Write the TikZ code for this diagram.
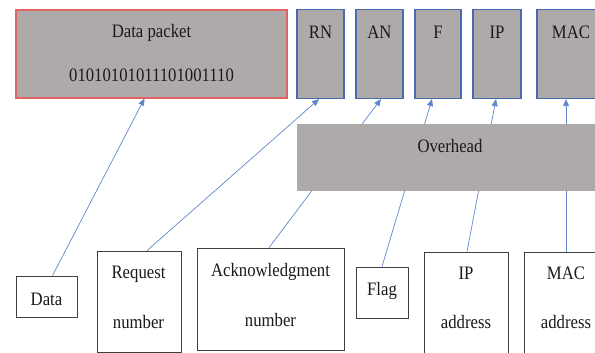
\documentclass[tikz,border=0pt]{standalone}
\usepackage{fontspec}
\setmainfont[FakeStretch=0.88]{Liberation Serif}
\usetikzlibrary{arrows.meta,calc}
\definecolor{boxgray}{HTML}{AEAAAA}
\definecolor{redline}{HTML}{E06464}
\definecolor{blueline}{HTML}{4A6BB0}
\definecolor{arrowblue}{HTML}{4472C4}
\definecolor{txt}{HTML}{1A1A1A}
\begin{document}
\begin{tikzpicture}[x=1pt,y=-1pt,
  txtstyle/.style={inner sep=0pt,text=txt,font=\fontsize{19}{20}\selectfont,anchor=base},
  topbox/.style={draw=blueline,line width=1.1pt,fill=boxgray},
  botbox/.style={draw=black!75,line width=0.8pt,fill=white},
  conn/.style={draw=arrowblue!85,line width=0.7pt,-{Triangle[length=7pt,width=6pt]}}]
\useasboundingbox (0,0) rectangle (595,353);
\clip (0,0) rectangle (595,353);
% boxes (as nodes of fixed size)
\node[draw=redline,line width=1.1pt,fill=boxgray,minimum width=271pt,minimum height=88pt,inner sep=0pt] (packet) at (151.5,54) {};
\node[topbox,minimum width=47pt,minimum height=89pt,inner sep=0pt] (rn) at (320.5,54) {};
\node[topbox,minimum width=47pt,minimum height=89pt,inner sep=0pt] (an) at (379.5,54) {};
\node[topbox,minimum width=46pt,minimum height=89pt,inner sep=0pt] (f) at (438,54) {};
\node[topbox,minimum width=48pt,minimum height=89pt,inner sep=0pt] (ip) at (497,54) {};
\node[topbox,minimum width=68pt,minimum height=89pt,inner sep=0pt] (mac) at (571,54) {};
% bottom boxes
\node[botbox,minimum width=61pt,minimum height=41pt,inner sep=0pt] (data) at (46.5,296.5) {};
\node[botbox,minimum width=84pt,minimum height=101pt,inner sep=0pt] (req) at (139,301.5) {};
\node[botbox,minimum width=147pt,minimum height=102pt,inner sep=0pt] (ack) at (270.5,299) {};
\node[botbox,minimum width=52pt,minimum height=51pt,inner sep=0pt] (flag) at (382,292.5) {};
\node[botbox,minimum width=84pt,minimum height=110pt,inner sep=0pt] (ipa) at (466,307) {};
\node[botbox,minimum width=84pt,minimum height=110pt,inner sep=0pt] (maca) at (566,307) {};
% connectors (drawn before the overhead box, which hides their middle part)
\draw[conn] ([xshift=6pt]data.north) -- ([xshift=-7pt]packet.south);
\draw[conn] ([xshift=8pt]req.north) -- ([xshift=-1.5pt]rn.south);
\draw[conn] ([xshift=-1.5pt]ack.north) -- ([xshift=1.5pt]an.south);
\draw[conn] (flag.north) -- ([xshift=-6pt]f.south);
\draw[conn] ([xshift=1pt]ipa.north) -- ([xshift=-1pt]ip.south);
\draw[conn] (maca.north) -- ([xshift=-5pt]mac.south);
% overhead box
\node[fill=boxgray,minimum width=306pt,minimum height=67pt,inner sep=0pt] (over) at (450,157.5) {};
% texts
\node[txtstyle] (tpacket) at (151.5,38) {Data packet};
\node[txtstyle] (tbits) at (151.5,82) {01010101011101001110};
\node[txtstyle] (trn) at (320.5,39) {RN};
\node[txtstyle] (tan) at (379.5,39) {AN};
\node[txtstyle] (tf) at (438,39) {F};
\node[txtstyle] (tip) at (497,39) {IP};
\node[txtstyle] (tmac) at (571,39) {MAC};
\node[txtstyle] (tover) at (450,152) {Overhead};
\node[txtstyle] (tdata) at (46.5,305) {Data};
\node[txtstyle] (treq1) at (138.5,278) {Request};
\node[txtstyle] (treq2) at (138.5,328) {number};
\node[txtstyle] (tack1) at (270.5,276) {Acknowledgment};
\node[txtstyle] (tack2) at (270.5,326) {number};
\node[txtstyle] (tflag) at (382,295) {Flag};
\node[txtstyle] (tipa1) at (466,279) {IP};
\node[txtstyle] (tipa2) at (466,328) {address};
\node[txtstyle] (tmaca1) at (566,279) {MAC};
\node[txtstyle] (tmaca2) at (566,328) {address};
\end{tikzpicture}
\end{document}
